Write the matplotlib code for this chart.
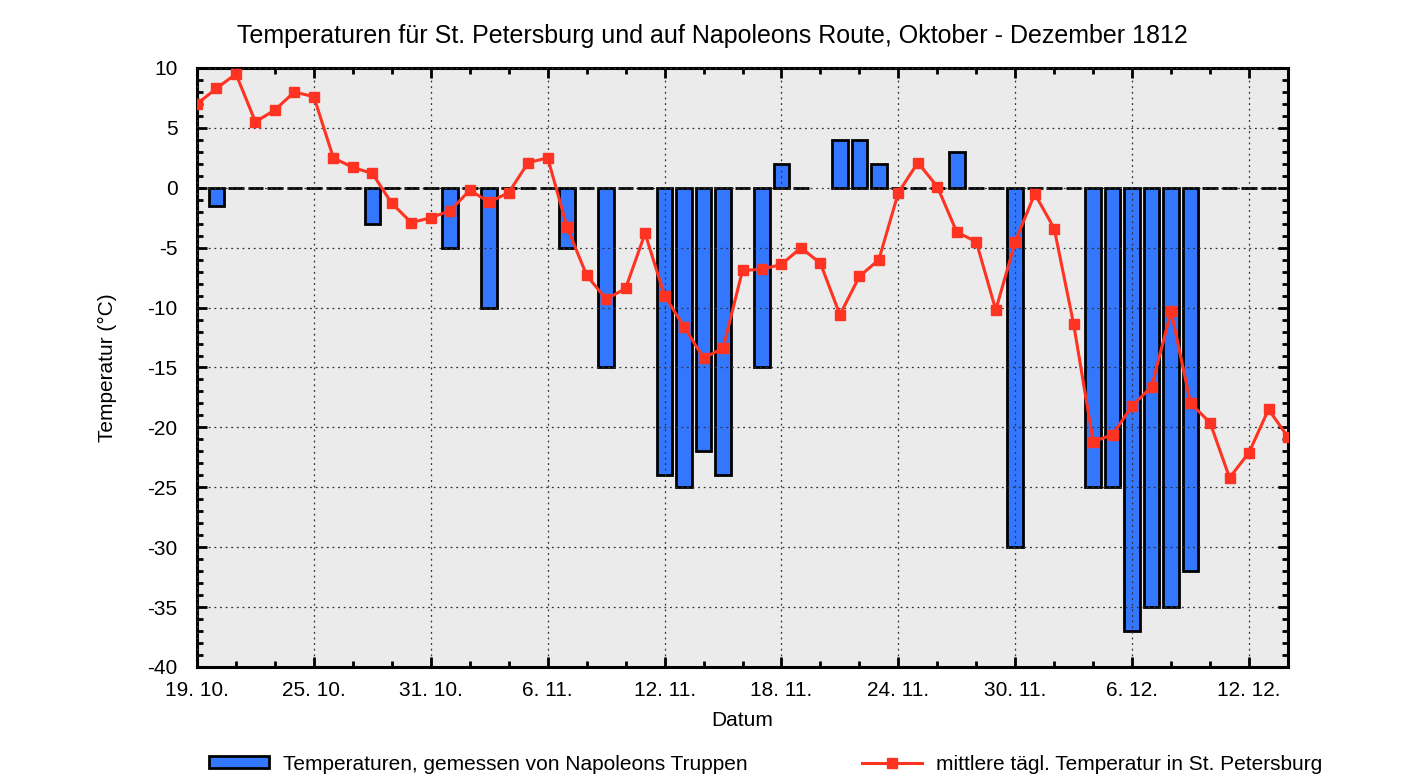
# -*- coding: utf-8 -*-
"""
Temperaturen für St. Petersburg und auf Napoleons Route, Okt - Dez 1812
Balken: Messungen der Truppen, Linie: Tagesmittel St. Petersburg
"""

from datetime import datetime, timedelta

import numpy as np
import matplotlib
matplotlib.use('Agg')
import matplotlib.pyplot as plt
from matplotlib.ticker import MultipleLocator, FixedLocator

plt.rcParams['font.family'] = ['Liberation Sans', 'DejaVu Sans']
plt.rcParams['axes.unicode_minus'] = False

# Tage ab 19.10.1812 (Index 0) bis 14.12.1812 (Index 56)
START = datetime(1812, 10, 19)
day_index = list(range(57))

# Temperaturen, gemessen von Napoleons Truppen (nan = kein Wert)
nan = float('nan')
troop_temp = [
    0, -1.5, 0, 0, 0, 0, 0, 0, 0, -3,
    0, 0, 0, -5, 0, -10, 0, 0, 0, -5,
    0, -15, 0, 0, -24, -25, -22, -24, 0, -15,
    2, 0, nan, 4, 4, 2, 0, 0, 0, 3,
    0, 0, -30, 0, 0, 0, -25, -25, -37, -35,
    -35, -32, 0, 0, 0, 0, nan,
]

# mittlere tägliche Temperatur in St. Petersburg
spb_temp = [
    7.0, 8.3, 9.5, 5.5, 6.5, 8.0, 7.6, 2.5, 1.7, 1.2,
    -1.3, -2.9, -2.5, -1.9, -0.2, -1.2, -0.4, 2.1, 2.5, -3.3,
    -7.3, -9.3, -8.4, -3.8, -9.0, -11.6, -14.2, -13.4, -6.9, -6.8,
    -6.4, -5.0, -6.3, -10.6, -7.4, -6.0, -0.4, 2.1, 0.1, -3.7,
    -4.5, -10.2, -4.5, -0.5, -3.4, -11.4, -21.2, -20.6, -18.2, -16.6,
    -10.3, -18.0, -19.6, -24.2, -22.1, -18.5, -20.8,
]

tick_days = [0, 6, 12, 18, 24, 30, 36, 42, 48, 54]
tick_labels = []
for d in tick_days:
    dt = START + timedelta(days=d)
    tick_labels.append(f'{dt.day}. {dt.month}.')

BAR_BLUE = '#3377FF'
LINE_RED = '#FF3322'
FS = 15

fig = plt.figure(figsize=(14.25, 7.8), dpi=100)
ax = fig.add_axes([197 / 1425, 1 - 667 / 780, (1288 - 197) / 1425, (667 - 68) / 780])
ax.set_facecolor('#EBEBEB')

x = np.array(day_index)
# kleiner blauer Rand rechts, wie im Original
ax.bar(x + 0.06, troop_temp, width=0.8, color=BAR_BLUE, linewidth=0, zorder=1)
bars = ax.bar(x, troop_temp, width=0.8, color=BAR_BLUE, edgecolor='black', linewidth=2.0,
              zorder=1.1)

line, = ax.plot(x, spb_temp, color=LINE_RED, linewidth=2.2, marker='s', markersize=6.5,
                zorder=3)

ax.set_xlim(0, 56)
ax.set_ylim(-40, 10)
ax.xaxis.set_major_locator(FixedLocator(tick_days))
ax.set_xticklabels(tick_labels)
ax.xaxis.set_minor_locator(MultipleLocator(2))
ax.yaxis.set_major_locator(MultipleLocator(5))
ax.yaxis.set_minor_locator(MultipleLocator(1))

ax.tick_params(which='both', direction='in', top=True, right=True, labelsize=FS, width=2)
ax.tick_params(which='major', length=7)
ax.tick_params(axis='x', which='major', pad=10)
ax.tick_params(axis='y', which='major', pad=14)
ax.tick_params(which='minor', length=4)
for s in ax.spines.values():
    s.set_linewidth(2.2)

ax.set_axisbelow(False)
ax.grid(True, which='major', linestyle=(0, (1.5, 3)), color='#333333', linewidth=0.9)

ax.set_xlabel('Datum', fontsize=FS, labelpad=8)
ax.set_ylabel('Temperatur (°C)', fontsize=FS, labelpad=22)
# Titel mittig über der ganzen Abbildung
fig.suptitle('Temperaturen für St. Petersburg und auf Napoleons Route, Oktober - Dezember 1812',
             fontsize=18, x=0.5, y=1 - 24 / 780, va='top')

fig.legend([bars, line],
           ['Temperaturen, gemessen von Napoleons Truppen',
            'mittlere tägl. Temperatur in St. Petersburg'],
           loc='lower center', bbox_to_anchor=(766 / 1425, -0.016), ncol=2, frameon=False,
           fontsize=FS, handlelength=2.85, handleheight=0.5, handletextpad=0.7,
           columnspacing=5.5, numpoints=1, markerscale=1.2)

fig.savefig('out.png', dpi=100, facecolor='white')
